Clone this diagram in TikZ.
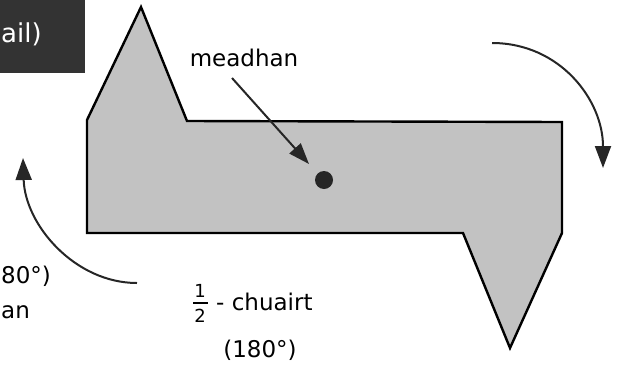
\documentclass[tikz,border=0pt]{standalone}
\usepackage{fontspec}
\setmainfont{DejaVu Sans}
\newfontfamily\boxfont{DejaVu Sans}
\usetikzlibrary{arrows.meta}
\definecolor{shapegray}{HTML}{C2C2C2}
\definecolor{boxgray}{HTML}{333333}
\tikzset{
  lbl/.style={font=\fontsize{23}{26}\selectfont, inner sep=0pt},
  turn/.style={line width=2pt, draw=black!85, -{Triangle[length=22pt,width=16pt]}},
}
\begin{document}
\begin{tikzpicture}[x=1pt,y=-1pt]
\useasboundingbox (0,0) rectangle (617,370);
% dark title box
\fill[boxgray] (0,0) rectangle (85,73);
\node[inner sep=0pt, text=white, anchor=west, font=\boxfont\fontsize{26}{28}\selectfont] (title) at (1,34) {ail)};
% shape
\draw[line width=2.4pt, fill=shapegray, line join=miter]
  (87,120) -- (141,7) -- (187,121) -- (562,122) -- (562,233) -- (510,348) -- (463,233) -- (87,233) -- cycle;
% centre
\node[circle, fill=black!85, minimum size=18pt, inner sep=0pt] (ctr) at (324,180) {};
\node[lbl] (mead) at (244,58) {meadhan};
\coordinate (ms) at (232,78);
\draw[line width=2pt, draw=black!85, -{Triangle[length=21pt,width=15pt]}] (ms) -- (309,164);
% right arrow
\coordinate (ra) at (492,43);
\coordinate (rb) at (603,168);
\draw[turn] (ra) .. controls (560,43) and (603,100) .. (rb);
% left arrow
\coordinate (la) at (137,283);
\coordinate (lb) at (23,158);
\draw[turn] (la) .. controls (75,283) and (25,225) .. (lb);
% left texts (cut off in the reference)
\node[lbl, anchor=west] (lt1) at (1,276) {80°)};
\node[lbl, anchor=west] (lt2) at (1,312) {an};
% half turn
\node[inner sep=0pt, font=\fontsize{18}{19}\selectfont] (num) at (200,291) {1};
\node[inner sep=0pt, font=\fontsize{18}{19}\selectfont] (den) at (200,316) {2};
\draw[line width=1.3pt] (193,303) -- (208,303);
\node[lbl, anchor=west] (half) at (216,302) {- chuairt};
\node[lbl] (deg) at (260,350) {(180°)};
\end{tikzpicture}
\end{document}
